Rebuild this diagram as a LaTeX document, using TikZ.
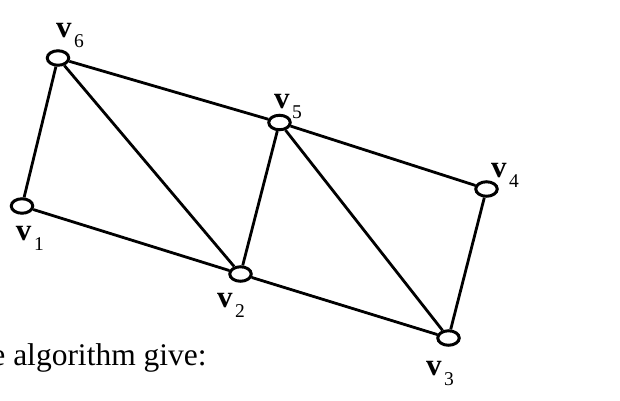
\documentclass[tikz,border=0pt]{standalone}
\usepackage{fontspec}
\setmainfont{Liberation Serif}
\usetikzlibrary{shapes.geometric}

\tikzset{
  vert/.style={draw, ellipse, line width=3pt, minimum width=21.5pt,
    minimum height=14.5pt, inner sep=0pt, fill=white},
  vlab/.style={anchor=base west, inner sep=0pt, outer sep=0pt}
}
\newcommand{\vsub}[1]{{\fontsize{31}{31}\selectfont\bfseries v}\kern2.5pt\raisebox{-10pt}{\fontsize{19.5}{19.5}\selectfont #1}}

\begin{document}
\begin{tikzpicture}[x=1pt, y=-1pt, line width=2.8pt]
	\useasboundingbox (0,0) rectangle (620,400);
	% vertices
	\node[vert] (v1) at (22,206) {};
	\node[vert] (v2) at (240.5,274) {};
	\node[vert] (v3) at (448.5,338) {};
	\node[vert] (v4) at (486.5,189) {};
	\node[vert] (v5) at (279.5,122.5) {};
	\node[vert] (v6) at (58,58) {};
	% outer edges, then the diagonals
	\draw (v6) -- (v1) (v1) -- (v2) (v2) -- (v3) (v3) -- (v4) (v4) -- (v5) (v5) -- (v6);
	\draw (v6) -- (v2) (v2) -- (v5) (v5) -- (v3);
	% names of the vertices
	\node[vlab] (l1) at (16,240) {\vsub{1}};
	\node[vlab] (l2) at (217,307) {\vsub{2}};
	\node[vlab] (l3) at (426,375) {\vsub{3}};
	\node[vlab] (l4) at (491,177) {\vsub{4}};
	\node[vlab] (l5) at (274,108) {\vsub{5}};
	\node[vlab] (l6) at (56,37) {\vsub{6}};
	% running text, cut at the left
	\node[anchor=base west, inner sep=0pt] (txt) at (-10,365) {\fontsize{31.5}{31.5}\selectfont e algorithm give:};
\end{tikzpicture}
\end{document}
